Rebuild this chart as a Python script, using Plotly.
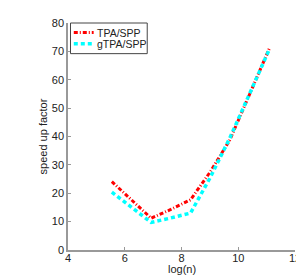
import numpy as np
import plotly.graph_objects as go

log_n = [5.545, 6.238, 6.931, 7.625, 8.318, 9.011, 9.704, 10.397, 11.09]
tpa_spp = [24.1, 17.6, 11.2, 14.3, 17.7, 27.5, 38.8, 54.8, 70.9]
gtpa_spp = [20.4, 15.0, 9.7, 11.3, 13.0, 25.5, 39.5, 55.0, 70.6]
x_ticks = [4, 6, 8, 10, 12]
y_ticks = [0, 10, 20, 30, 40, 50, 60, 70, 80]
series_names = ["TPA/SPP", "gTPA/SPP"]
series_colors = ["#ff0000", "#00ffff"]
series_dash = ["4px,2px,1px,2px", "4px,3px"]
series_width = [3, 3.5]

FONT = "Liberation Sans, Arial"
TXT = "#222222"

fig = go.Figure()
for name, ys, col, dsh, w in zip(series_names, [tpa_spp, gtpa_spp], series_colors, series_dash, series_width):
    fig.add_trace(go.Scatter(x=log_n, y=ys, mode="lines", name=name,
                             line=dict(color=col, width=w, dash=dsh)))

axis_common = dict(showgrid=False, zeroline=False, showline=True, linecolor="#999999",
                   linewidth=1.5, ticks="inside", ticklen=3, tickcolor="#999999",
                   tickfont=dict(family=FONT, size=11, color=TXT),
                   mirror=False, automargin=False, ticklabeloverflow="allow")
fig.update_xaxes(range=[4, 12], tickvals=x_ticks, ticklabelstandoff=-3, **axis_common)
fig.update_yaxes(range=[0, 80], tickvals=y_ticks,
                 title=dict(text="speed up factor", font=dict(family=FONT, size=11, color=TXT), standoff=2),
                 **axis_common)

fig.add_annotation(text="log(n)", xref="paper", yref="paper", x=0.5, y=-0.085,
                   xanchor="center", yanchor="middle", showarrow=False,
                   font=dict(family=FONT, size=11, color=TXT))

# legend box (MATLAB-style, compact)
fig.add_shape(type="rect", xref="paper", yref="paper", x0=0.011, x1=0.349, y0=0.865, y1=1.0,
              line=dict(color="#444444", width=1), fillcolor="white", layer="above")
for i, (name, col, dsh, w) in enumerate(zip(series_names, series_colors, series_dash, series_width)):
    yy = [0.958, 0.909][i]
    fig.add_shape(type="line", xref="paper", yref="paper", x0=0.0255, x1=0.113, y0=yy, y1=yy,
                  line=dict(color=col, width=w, dash=dsh), layer="above")
    fig.add_annotation(text=name, xref="paper", yref="paper", x=0.119, y=yy,
                       xanchor="left", yanchor="middle", showarrow=False,
                       font=dict(family=FONT, size=10.5, color=TXT))

fig.update_layout(
    width=296, height=269,
    margin=dict(l=60, r=9, t=15, b=27, autoexpand=False),
    paper_bgcolor="white", plot_bgcolor="white",
    showlegend=False,
)

fig.write_html("out.html")
